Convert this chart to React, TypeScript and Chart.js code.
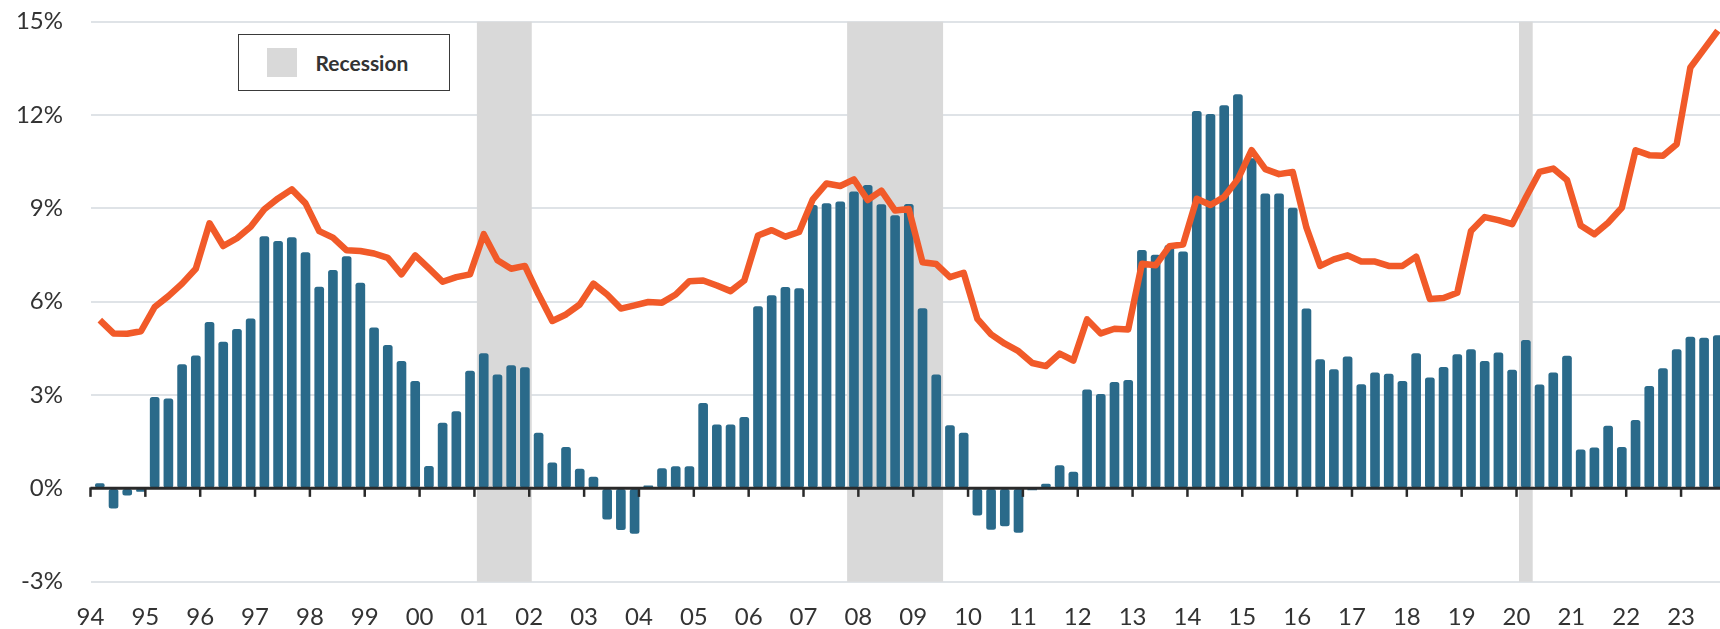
import React, { useEffect, useRef } from 'react';
import { Chart, registerables } from 'chart.js';

Chart.register(...registerables);

const START_YEAR = 1994;

// Quarterly bar series (%), 1994Q1 onward
const barValues: number[] = [
  0.15, -0.64, -0.22, -0.10,
  2.93, 2.88, 3.98, 4.26,
  5.34, 4.70, 5.11, 5.45,
  8.09, 7.94, 8.06, 7.58,
  6.47, 7.01, 7.45, 6.60,
  5.16, 4.60, 4.08, 3.44,
  0.71, 2.10, 2.47, 3.77,
  4.33, 3.65, 3.95, 3.88,
  1.78, 0.82, 1.32, 0.62,
  0.36, -0.99, -1.33, -1.45,
  0.08, 0.64, 0.70, 0.70,
  2.73, 2.04, 2.04, 2.28,
  5.84, 6.20, 6.46, 6.42,
  9.10, 9.15, 9.21, 9.53,
  9.74, 9.12, 8.77, 9.13,
  5.78, 3.65, 2.02, 1.78,
  -0.86, -1.32, -1.21, -1.42,
  -0.05, 0.14, 0.73, 0.52,
  3.17, 3.02, 3.41, 3.47,
  7.65, 7.50, 7.81, 7.60,
  12.12, 12.02, 12.30, 12.66,
  10.60, 9.47, 9.47, 9.01,
  5.77, 4.14, 3.82, 4.23,
  3.34, 3.71, 3.67, 3.44,
  4.33, 3.55, 3.89, 4.30,
  4.46, 4.08, 4.36, 3.80,
  4.76, 3.33, 3.71, 4.25,
  1.24, 1.30, 2.00, 1.32,
  2.19, 3.28, 3.85, 4.46,
  4.86, 4.83, 4.91,
];

// Quarterly line series (%), 1994Q1 onward
const lineValues: number[] = [
  5.41, 4.98, 4.97, 5.05,
  5.83, 6.18, 6.58, 7.06,
  8.52, 7.79, 8.04, 8.41,
  8.97, 9.32, 9.61, 9.16,
  8.27, 8.06, 7.65, 7.63,
  7.55, 7.41, 6.88, 7.49,
  7.07, 6.64, 6.79, 6.88,
  8.17, 7.33, 7.06, 7.15,
  6.23, 5.38, 5.59, 5.91,
  6.58, 6.23, 5.78, 5.88,
  5.99, 5.97, 6.23, 6.66,
  6.68, 6.52, 6.34, 6.68,
  8.13, 8.30, 8.09, 8.24,
  9.29, 9.80, 9.72, 9.93,
  9.27, 9.57, 8.93, 8.98,
  7.27, 7.21, 6.79, 6.93,
  5.45, 4.95, 4.65, 4.41,
  4.03, 3.93, 4.33, 4.11,
  5.43, 4.98, 5.13, 5.11,
  7.22, 7.17, 7.78, 7.84,
  9.31, 9.11, 9.37, 9.94,
  10.87, 10.26, 10.10, 10.17,
  8.38, 7.15, 7.36, 7.49,
  7.29, 7.29, 7.15, 7.15,
  7.45, 6.09, 6.12, 6.29,
  8.27, 8.72, 8.62, 8.49,
  9.35, 10.17, 10.28, 9.91,
  8.45, 8.17, 8.54, 9.02,
  10.87, 10.71, 10.69, 11.06,
  13.53, 14.12, 14.71,
];

// Category labels (quarters)
const quarters: string[] = barValues.map(
  (_, i) => `${START_YEAR + Math.floor(i / 4)}Q${(i % 4) + 1}`
);

// X-axis tick labels (years)
const tickLabels: string[] = [
  '94', '95', '96', '97', '98', '99', '00', '01', '02', '03',
  '04', '05', '06', '07', '08', '09', '10', '11', '12', '13',
  '14', '15', '16', '17', '18', '19', '20', '21', '22', '23',
];

const yTickValues: number[] = [-3, 0, 3, 6, 9, 12, 15];

// Recession periods (first and last quarter shaded)
const recessionStarts: string[] = ['2001Q1', '2007Q4', '2020Q1'];
const recessionEnds: string[] = ['2001Q4', '2009Q2', '2020Q1'];

const Q_OFFSET = 0.17;
const quarterToX = (q: string) => {
  const y = parseInt(q.slice(0, 4), 10);
  const n = parseInt(q.slice(5), 10);
  return y + (n - 1) / 4 + Q_OFFSET;
};
const labelToYear = (l: string) => {
  const n = parseInt(l, 10);
  return n < 50 ? 2000 + n : 1900 + n;
};

const FONT = 'Lato, "Open Sans", sans-serif';

const recessionPlugin = {
  id: 'recessionAndAxis',
  beforeDatasetsDraw(chart: any) {
    const { ctx, chartArea } = chart;
    const x = chart.scales.x;
    ctx.save();
    ctx.fillStyle = '#d9d9d9';
    recessionStarts.forEach((s, i) => {
      const x0 = x.getPixelForValue(quarterToX(s) - 0.125);
      const x1 = x.getPixelForValue(quarterToX(recessionEnds[i]) + 0.125);
      ctx.fillRect(x0, chartArea.top, x1 - x0, chartArea.bottom - chartArea.top);
    });
    ctx.restore();
  },
  afterDatasetsDraw(chart: any) {
    const { ctx, chartArea } = chart;
    const x = chart.scales.x;
    const y = chart.scales.y;
    const y0 = y.getPixelForValue(0);
    ctx.save();
    ctx.strokeStyle = '#2a2a2a';
    ctx.lineWidth = 3;
    ctx.beginPath();
    ctx.moveTo(chartArea.left, y0);
    ctx.lineTo(chartArea.right, y0);
    ctx.stroke();
    ctx.lineWidth = 2.5;
    x.ticks.forEach((t: any) => {
      const px = x.getPixelForValue(t.value);
      ctx.beginPath();
      ctx.moveTo(px, y0 - 1);
      ctx.lineTo(px, y0 + 8.5);
      ctx.stroke();
    });
    ctx.restore();
  },
};

export default function App() {
  const canvasRef = useRef<HTMLCanvasElement | null>(null);

  useEffect(() => {
    document.body.style.margin = '0';
    const canvas = canvasRef.current;
    if (!canvas) return;
    const chart = new Chart(canvas, {
      type: 'bar',
      data: {
        datasets: [
          {
            type: 'line',
            label: 'Line',
            data: quarters.map((q, i) => ({ x: quarterToX(q), y: lineValues[i] })),
            borderColor: '#f15a29',
            backgroundColor: '#f15a29',
            borderWidth: 6.5,
            pointRadius: 0,
            tension: 0,
            borderJoinStyle: 'round',
            order: 0,
          } as any,
          {
            type: 'bar',
            label: 'Bars',
            data: quarters.map((q, i) => ({ x: quarterToX(q), y: barValues[i] })),
            backgroundColor: '#2a6a8a',
            barThickness: 9,
            borderRadius: 2.5,
            borderSkipped: false,
            order: 1,
          } as any,
        ],
      },
      options: {
        animation: false,
        responsive: false,
        devicePixelRatio: 1,
        layout: { padding: { top: 21.7, left: 0, right: 0, bottom: 0 } },
        plugins: {
          legend: { display: false },
          tooltip: { enabled: false },
        },
        scales: {
          x: {
            type: 'linear',
            min: START_YEAR,
            max: 2023.71,
            offset: false,
            grid: { display: false, drawTicks: false },
            border: { display: false },
            afterBuildTicks: (axis: any) => {
              axis.ticks = tickLabels.map((l) => ({ value: labelToYear(l) }));
            },
            afterFit: (axis: any) => {
              axis.height = 47.3;
              axis.paddingLeft = 0;
              axis.paddingRight = 0;
            },
            ticks: {
              autoSkip: false,
              maxRotation: 0,
              minRotation: 0,
              padding: 21,
              color: '#333333',
              font: { family: FONT, size: 24 },
              callback: (_v: any, i: number) => tickLabels[i],
            },
          },
          y: {
            min: -3,
            max: 15,
            afterBuildTicks: (axis: any) => {
              axis.ticks = yTickValues.map((v) => ({ value: v }));
            },
            afterFit: (axis: any) => {
              axis.width = 90.5;
              axis.paddingTop = 0;
              axis.paddingBottom = 0;
            },
            grid: { color: '#dfe3e7', lineWidth: 2, drawTicks: false },
            border: { display: false },
            ticks: {
              padding: 27.5,
              color: '#333333',
              font: { family: FONT, size: 24 },
              callback: (v: any) => `${v}%`,
            },
          },
        } as any,
      },
      plugins: [recessionPlugin],
    } as any);
    return () => chart.destroy();
  }, []);

  return (
    <div style={{ position: 'relative', width: 1720, height: 629 }}>
      <canvas ref={canvasRef} width={1720} height={629} style={{ display: 'block' }} />
      <div
        style={{
          position: 'absolute',
          left: 238,
          top: 34,
          width: 212,
          height: 57,
          boxSizing: 'border-box',
          border: '1.5px solid #3a3a3a',
          background: '#ffffff',
          display: 'flex',
          alignItems: 'center',
        }}
      >
        <span
          style={{
            display: 'inline-block',
            width: 30,
            height: 29,
            background: '#d9d9d9',
            marginLeft: 27.5,
          }}
        />
        <span
          style={{
            marginLeft: 19,
            fontFamily: FONT,
            fontWeight: 700,
            fontSize: 21,
            color: '#333333',
            lineHeight: 1,
          }}
        >
          Recession
        </span>
      </div>
    </div>
  );
}
